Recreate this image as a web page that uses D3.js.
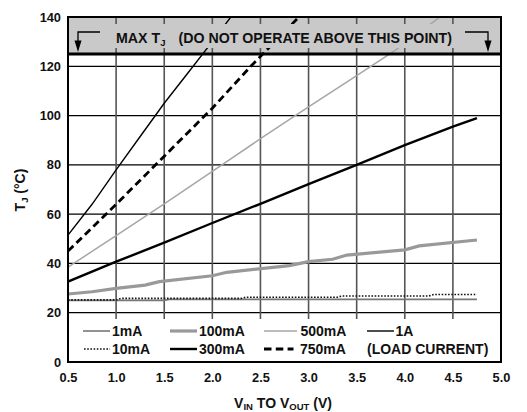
<!DOCTYPE html>
<html><head><meta charset="utf-8">
<script src="https://cdn.jsdelivr.net/npm/d3@7"></script>
<style>body{margin:0;background:#fff;} text{font-family:"Liberation Sans",Arial,sans-serif;font-weight:bold;fill:#111;}</style>
</head><body>
<svg id="c" width="527" height="412"></svg>
<script>
const xTicks = [0.5,1.0,1.5,2.0,2.5,3.0,3.5,4.0,4.5,5.0];
const yTicks = [0,20,40,60,80,100,120,140];
const seriesNames = ["1mA","10mA","100mA","300mA","500mA","750mA","1A"];
const s1mA = [[0.5,25.0],[1.5,25.0],[1.55,25.4],[4.75,25.4]];
const s10mA = [[0.5,25.2],[1.0,25.2],[1.05,25.8],[2.3,25.8],[2.35,26.3],[3.3,26.3],[3.35,26.8],[4.25,26.8],[4.3,27.4],[4.75,27.4]];
const s100mA = [[0.5,27.6],[0.75,28.5],[1.0,29.9],[1.3,31.2],[1.45,32.6],[2.0,35.0],[2.15,36.4],[2.8,39.1],[3.0,40.7],[3.25,41.7],[3.4,43.4],[4.0,45.5],[4.15,47.1],[4.75,49.5]];
const s300mA = [[0.5,32.6],[1.0,40.7],[1.5,48.4],[2.0,56.4],[2.5,64.2],[3.0,72.2],[3.5,80.0],[4.0,88.0],[4.5,95.5],[4.75,99.0]];
const s500mA = [[0.5,38.5],[1.0,51.3],[1.5,64.2],[2.0,77.4],[2.5,90.6],[3.0,103.5],[3.5,116.2],[3.9,126.5],[4.4,141.0]];
const s750mA = [[0.5,45.0],[1.0,64.0],[1.5,83.5],[2.0,103.0],[2.4,120.0],[2.9,140.0],[3.0,144.0]];
const s1A = [[0.5,51.5],[0.75,64.0],[1.0,78.0],[1.25,91.5],[1.5,105.0],[1.75,117.5],[2.0,130.0],[2.25,143.0]];
const maxTj = 125;

const series = [
  {name:"1mA", data:s1mA, color:"#777", w:1.6, dash:null},
  {name:"10mA", data:s10mA, color:"#111", w:1.6, dash:"1.6,1.6"},
  {name:"100mA", data:s100mA, color:"#999", w:3.2, dash:null},
  {name:"300mA", data:s300mA, color:"#000", w:2.4, dash:null},
  {name:"500mA", data:s500mA, color:"#a6a6a6", w:1.5, dash:null},
  {name:"750mA", data:s750mA, color:"#000", w:2.8, dash:"7.5,4.3"},
  {name:"1A", data:s1A, color:"#000", w:1.4, dash:null}
];

const svg = d3.select("#c");
const L=68, R=501, T=17, B=362;
const x = d3.scaleLinear().domain([0.5,5]).range([L,R]);
const y = d3.scaleLinear().domain([0,140]).range([B,T]);

svg.append("defs").append("clipPath").attr("id","pc").append("rect")
  .attr("x",L).attr("y",T).attr("width",R-L).attr("height",B-T);

// band
svg.append("rect").attr("x",L).attr("y",y(140)).attr("width",R-L).attr("height",y(maxTj)-y(140)).attr("fill","#c9c9c9");
// horizontal grid
svg.append("g").selectAll("line").data(yTicks.filter(v=>v>0&&v<140)).join("line")
  .attr("x1",L).attr("x2",R).attr("y1",d=>y(d)).attr("y2",d=>y(d)).attr("stroke","#000").attr("stroke-width",1.2);
// vertical grid
svg.append("g").selectAll("line").data(xTicks.filter(v=>v>0.5&&v<5)).join("line")
  .attr("x1",d=>x(d)).attr("x2",d=>x(d)).attr("y1",T).attr("y2",B).attr("stroke","#555").attr("stroke-width",1.6);

// series
const line = d3.line().x(d=>x(d[0])).y(d=>y(d[1]));
svg.append("g").attr("clip-path","url(#pc)").selectAll("path").data(series).join("path")
  .attr("d",d=>line(d.data)).attr("fill","none").attr("stroke",d=>d.color)
  .attr("stroke-width",d=>d.w).attr("stroke-dasharray",d=>d.dash);

// text strip in band
svg.append("rect").attr("x",L).attr("y",24).attr("width",R-L).attr("height",24).attr("fill","#c9c9c9");
const bt = svg.append("text").attr("x",284).attr("y",43).attr("text-anchor","middle").attr("font-size",14.2);
bt.append("tspan").text("MAX T");
bt.append("tspan").attr("font-size",9.5).attr("dy",3).text("J");
bt.append("tspan").attr("dy",-3).attr("dx",13).text("(DO NOT OPERATE ABOVE THIS POINT)");
// arrows
const ag = svg.append("g").attr("stroke","#000").attr("stroke-width",1.3).attr("fill","none");
ag.append("path").attr("d","M100,32 H78 V42");
ag.append("path").attr("d","M465,32 H488 V42");
svg.append("path").attr("d","M74.5,40.5 L81.5,40.5 L78,52 Z").attr("fill","#000");
svg.append("path").attr("d","M484.5,40.5 L491.5,40.5 L488,52 Z").attr("fill","#000");
// thick max line
svg.append("line").attr("x1",L).attr("x2",R).attr("y1",y(maxTj)).attr("y2",y(maxTj)).attr("stroke","#000").attr("stroke-width",3);

// legend box
svg.append("rect").attr("x",L).attr("y",319).attr("width",R-L).attr("height",B-319).attr("fill","#fff");
const legPos = {
  "1mA":[83,331],"100mA":[170,331],"500mA":[264,331],"1A":[367,331],
  "10mA":[84,349],"300mA":[170,349],"750mA":[264,349]
};
const legLen = {"1mA":27,"100mA":27,"500mA":33,"1A":27,"10mA":26,"300mA":27,"750mA":29.5};
const legTx = {"1mA":112,"100mA":199,"500mA":300.5,"1A":395.5,"10mA":112,"300mA":199,"750mA":300};
const lg = svg.append("g");
series.forEach(s=>{
  const p = legPos[s.name];
  lg.append("line").attr("x1",p[0]).attr("x2",p[0]+legLen[s.name]).attr("y1",p[1]).attr("y2",p[1])
    .attr("stroke",s.color).attr("stroke-width",s.w).attr("stroke-dasharray",s.dash);
  lg.append("text").attr("x",legTx[s.name]).attr("y",p[1]+5).attr("font-size",14).text(s.name);
});
lg.append("text").attr("x",367).attr("y",354).attr("font-size",14).text("(LOAD CURRENT)");

// frame
svg.append("rect").attr("x",L).attr("y",T).attr("width",R-L).attr("height",B-T).attr("fill","none").attr("stroke","#000").attr("stroke-width",2);

// axes
const ya = svg.append("g").attr("transform",`translate(${L},0)`)
  .call(d3.axisLeft(y).tickValues(yTicks).tickSize(0).tickPadding(7).tickFormat(d3.format("d")));
ya.select(".domain").remove();
ya.selectAll("text").attr("font-size",12.8).attr("font-family","Liberation Sans, Arial, sans-serif").attr("font-weight","bold").attr("fill","#111");
const xa = svg.append("g").attr("transform",`translate(0,${B})`)
  .call(d3.axisBottom(x).tickValues(xTicks).tickSize(0).tickPadding(11).tickFormat(d3.format(".1f")));
xa.select(".domain").remove();
xa.selectAll("text").attr("font-size",12.8).attr("font-family","Liberation Sans, Arial, sans-serif").attr("font-weight","bold").attr("fill","#111");

// axis titles
const yl = svg.append("text").attr("transform","translate(25,190) rotate(-90)").attr("text-anchor","middle").attr("font-size",14);
yl.append("tspan").text("T");
yl.append("tspan").attr("font-size",9.5).attr("dy",3).text("J");
yl.append("tspan").attr("dy",-3).text(" (°C)");
const xl = svg.append("text").attr("x",283).attr("y",408).attr("text-anchor","middle").attr("font-size",14);
xl.append("tspan").text("V");
xl.append("tspan").attr("font-size",9.5).attr("dy",2.2).text("IN");
xl.append("tspan").attr("dy",-2.2).text(" TO V");
xl.append("tspan").attr("font-size",9.5).attr("dy",2.2).text("OUT");
xl.append("tspan").attr("dy",-2.2).text(" (V)");
</script>
</body></html>
